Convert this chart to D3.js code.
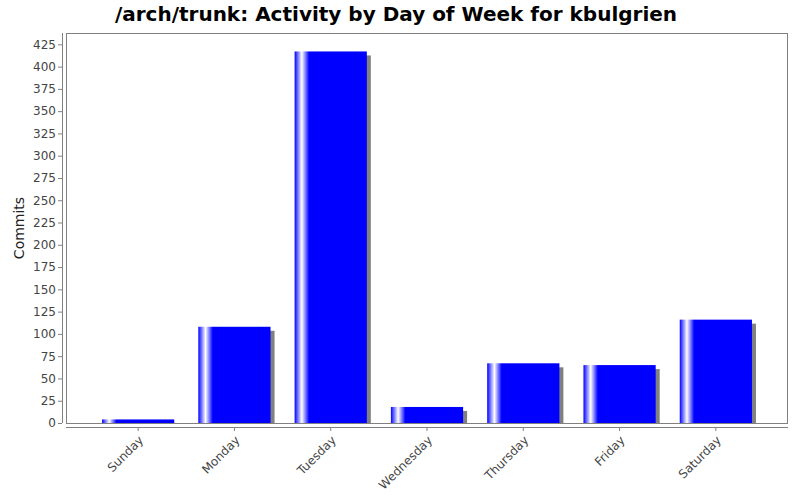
<!DOCTYPE html>
<html>
<head>
<meta charset="utf-8">
<script src="https://cdn.jsdelivr.net/npm/d3@7"></script>
<style>
  body { margin: 0; background: #fff; }
  svg { display: block; font-family: "DejaVu Sans", sans-serif; }
</style>
</head>
<body>
<div chart></div>
<script>
const days = ["Sunday", "Monday", "Tuesday", "Wednesday", "Thursday", "Friday", "Saturday"];
const commits = [4, 108, 417, 18, 67, 65, 116];
const yTicks = d3.range(0, 426, 25);

const width = 800;
const height = 500;
const plot = { left: 66, right: 788, top: 33, bottom: 423 };

const svg = d3
  .select("[chart]")
  .append("svg")
  .attr("width", width)
  .attr("height", height);

// gradient for the bars (white highlight near the left edge)
const grad = svg
  .append("defs")
  .append("linearGradient")
  .attr("id", "barGrad")
  .attr("x1", "0%")
  .attr("x2", "100%");
[
  [0, "#0000ff"],
  [0.04, "#6666ff"],
  [0.1, "#ffffff"],
  [0.16, "#6666ff"],
  [0.2, "#0000ff"],
  [1, "#0000ff"],
].forEach(([o, c]) => grad.append("stop").attr("offset", o).attr("stop-color", c));

const x = d3
  .scaleBand()
  .domain(days)
  .range([plot.left + 24, plot.right - 24])
  .paddingInner(0.25)
  .paddingOuter(0.125);

const y = d3.scaleLinear().domain([0, 437.7]).range([plot.bottom, plot.top]);

// title
svg
  .append("text")
  .attr("x", 396)
  .attr("y", 21)
  .attr("text-anchor", "middle")
  .attr("font-size", "20px")
  .attr("font-weight", "bold")
  .attr("fill", "#000")
  .text("/arch/trunk: Activity by Day of Week for kbulgrien");

// plot background / border
svg
  .append("rect")
  .attr("x", plot.left + 0.5)
  .attr("y", plot.top + 0.5)
  .attr("width", plot.right - plot.left - 1)
  .attr("height", plot.bottom - plot.top)
  .attr("fill", "#fff")
  .attr("stroke", "#808080");

// shadows
svg
  .selectAll("rect.shadow")
  .data(commits)
  .enter()
  .append("rect")
  .attr("class", "shadow")
  .attr("x", (d, i) => x(days[i]) + 4)
  .attr("y", (d) => y(d) + 4)
  .attr("width", x.bandwidth())
  .attr("height", (d) => Math.max(0, plot.bottom - y(d) - 4))
  .attr("fill", "#808080");

// bars
svg
  .selectAll("rect.bar")
  .data(commits)
  .enter()
  .append("rect")
  .attr("class", "bar")
  .attr("x", (d, i) => x(days[i]))
  .attr("y", (d) => y(d))
  .attr("width", x.bandwidth())
  .attr("height", (d) => plot.bottom - y(d))
  .attr("fill", "url(#barGrad)");

// y axis
const yAxis = svg
  .append("g")
  .attr("transform", `translate(${plot.left - 4}, 0)`)
  .call(d3.axisLeft(y).tickValues(yTicks).tickSize(4).tickPadding(2));
yAxis.select(".domain").attr("stroke", "#808080").attr("d", `M0.5,${plot.top}V${plot.bottom}`);
yAxis.selectAll(".tick line").attr("stroke", "#808080");
yAxis.selectAll(".tick text").attr("font-size", "12px").attr("fill", "#444").attr("font-family", "DejaVu Sans");

// x axis
const xAxis = svg
  .append("g")
  .attr("transform", `translate(0, ${plot.bottom + 4})`)
  .call(d3.axisBottom(x).tickSize(4).tickSizeOuter(0));
xAxis.select(".domain").attr("stroke", "#808080").attr("d", `M${plot.left},0.5H${plot.right}`);
xAxis.selectAll(".tick line").attr("stroke", "#808080");
xAxis
  .selectAll(".tick text")
  .attr("font-size", "12px")
  .attr("fill", "#444")
  .attr("font-family", "DejaVu Sans")
  .attr("text-anchor", "end")
  .attr("dy", null)
  .attr("y", null)
  .attr("transform", "translate(6, 14) rotate(-45)");

// y label
svg
  .append("text")
  .attr("transform", `translate(24, ${(plot.top + plot.bottom) / 2}) rotate(-90)`)
  .attr("text-anchor", "middle")
  .attr("font-size", "14px")
  .attr("fill", "#222")
  .text("Commits");
</script>
</body>
</html>
